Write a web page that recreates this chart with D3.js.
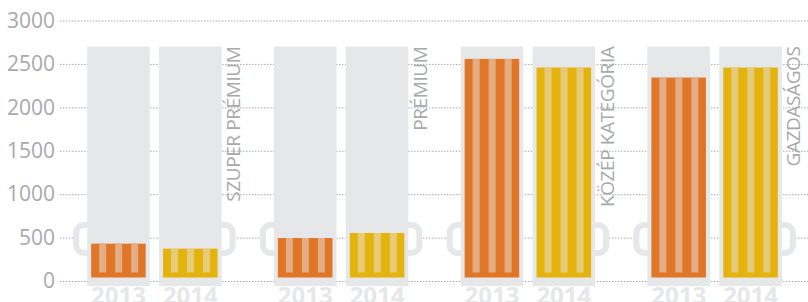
<!DOCTYPE html>
<html>
<head>
<meta charset="utf-8">
<script src="https://cdn.jsdelivr.net/npm/d3@7"></script>
<style>
  body { margin: 0; background: #fff; }
  svg { display: block; font-family: "Open Sans", sans-serif; }
  .grid line { stroke: #a7a9ac; stroke-dasharray: 1.5,1.5; }
</style>
</head>
<body>
<script>
var w = 808;
var h = 302;

var categories = ['SZUPER PRÉMIUM', 'PRÉMIUM', 'KÖZÉP KATEGÓRIA', 'GAZDASÁGOS'];
var years = ['2013', '2014'];
var values2013 = [430, 495, 2558, 2343];
var values2014 = [372, 553, 2458, 2458];
var yTicks = [0, 500, 1000, 1500, 2000, 2500, 3000];
var mugCapacity = 2700;

var beerColors = { '2013': '#e07628', '2014': '#e5b30d' };
var stripeColors = { '2013': '#e4ad86', '2014': '#e6cb7b' };
var mugColor = '#e6e7e8';

var svg = d3.select('body')
	.append('svg')
	.attr('width', w)
	.attr('height', h);

var y = d3.scaleLinear().domain([0, 3000]).range([281, 20.5]);

var x0 = d3.scaleBand()
	.domain(categories)
	.range([61, 808])
	.paddingInner(0.28)
	.paddingOuter(0.14);

var x1 = d3.scaleBand()
	.domain(years)
	.range([0, x0.bandwidth()])
	.paddingInner(0.13);

// grid + tick labels
svg.append('g')
	.attr('class', 'grid')
	.attr('transform', 'translate(60,0)')
	.call(d3.axisLeft(y).tickValues(yTicks).tickFormat(d3.format('d')).tickSize(-(w - 60)).tickPadding(5))
	.call(function(g) {
		g.select('.domain').remove();
		g.attr('font-family', '"Open Sans", sans-serif').attr('font-size', 21);
		g.selectAll('text').attr('fill', '#a7a9ac');
	});

var data = categories.map(function(c, i) {
	return { cat: c, beers: [
		{ year: '2013', value: values2013[i] },
		{ year: '2014', value: values2014[i] }
	]};
});

var groups = svg.selectAll('g.group')
	.data(data)
	.enter()
	.append('g')
	.attr('class', 'group')
	.attr('transform', function(d) { return 'translate(' + x0(d.cat) + ',0)'; });

var mugTop = y(mugCapacity);
var mugBottom = y(0) + 5;
var bw = x1.bandwidth();

// handles (left of 2013 mug, right of 2014 mug)
groups.append('rect')
	.attr('x', -11)
	.attr('y', 225)
	.attr('width', 30)
	.attr('height', 28)
	.attr('rx', 8)
	.attr('fill', '#fff')
	.attr('stroke', mugColor)
	.attr('stroke-width', 6);

groups.append('rect')
	.attr('x', x1('2014') + bw - 19)
	.attr('y', 225)
	.attr('width', 30)
	.attr('height', 28)
	.attr('rx', 8)
	.attr('fill', '#fff')
	.attr('stroke', mugColor)
	.attr('stroke-width', 6);

var mugs = groups.selectAll('g.mug')
	.data(function(d) { return d.beers; })
	.enter()
	.append('g')
	.attr('class', 'mug')
	.attr('transform', function(d) { return 'translate(' + x1(d.year) + ',0)'; });

mugs.append('rect')
	.attr('x', 0)
	.attr('y', mugTop)
	.attr('width', bw)
	.attr('height', mugBottom - mugTop)
	.attr('fill', mugColor);

var inset = 4;
var beerBottom = y(0) - 3.5;

mugs.append('rect')
	.attr('x', inset)
	.attr('y', function(d) { return y(d.value); })
	.attr('width', bw - 2 * inset)
	.attr('height', function(d) { return beerBottom - y(d.value); })
	.attr('fill', function(d) { return beerColors[d.year]; });

mugs.each(function(d) {
	var g = d3.select(this);
	for (var i = 0; i < 3; i++) {
		g.append('rect')
			.attr('x', inset + 8 + i * 16)
			.attr('y', y(d.value))
			.attr('width', 7)
			.attr('height', beerBottom - 5 - y(d.value))
			.attr('fill', stripeColors[d.year]);
	}
});

mugs.append('text')
	.attr('x', bw / 2)
	.attr('y', 304)
	.attr('text-anchor', 'middle')
	.attr('font-size', 24)
	.attr('font-weight', 'bold')
	.attr('fill', mugColor)
	.text(function(d) { return d.year; });

groups.append('text')
	.attr('transform', 'translate(' + (x1('2014') + bw + 18.5) + ',' + mugTop + ') rotate(-90)')
	.attr('text-anchor', 'end')
	.attr('font-size', 19)
	.attr('letter-spacing', -0.4)
	.attr('fill', '#a7a9ac')
	.text(function(d) { return d.cat; });
</script>
</body>
</html>
